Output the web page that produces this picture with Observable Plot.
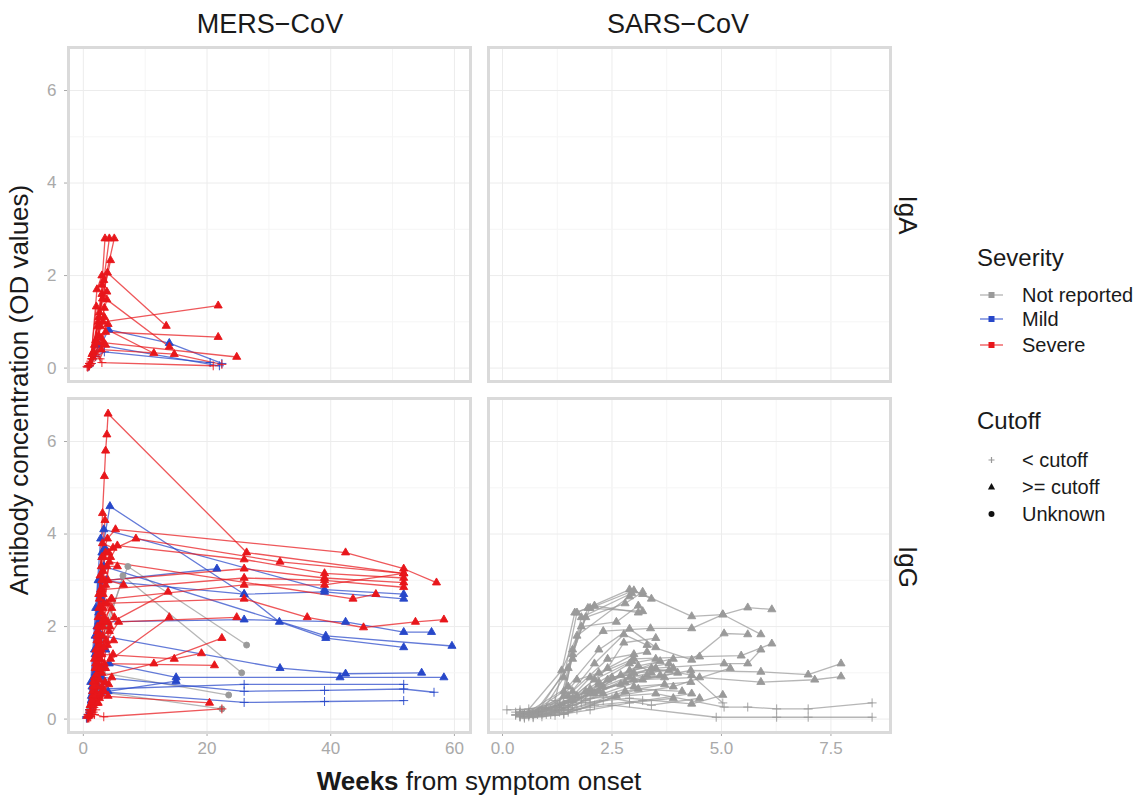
<!DOCTYPE html>
<html><head><meta charset="utf-8">
<script src="https://cdn.jsdelivr.net/npm/d3@7"></script>
<script src="https://cdn.jsdelivr.net/npm/@observablehq/plot@0.6"></script>
<style>
body{margin:0;background:#fff;font-family:"Liberation Sans",Arial,Helvetica,sans-serif;}
#chart{position:relative;width:1143px;height:801px;overflow:hidden;background:#fff;}
#chart svg{position:absolute;left:0;top:0;}
.lbl{position:absolute;white-space:nowrap;color:#1a1a1a;line-height:1;}
</style></head><body><div id="chart"></div>
<script>
// ---------- categories ----------
const sevLevels = ["Not reported", "Mild", "Severe"];
const sevColors = ["#9a9a9a", "#2747c9", "#e8161b"];
const sevCodes = {N: "Not reported", M: "Mild", S: "Severe"};
const cutoffLevels = ["< cutoff", ">= cutoff", "Unknown"];   // code 0, 1, 2
const columnLabels = ["MERS\u2212CoV", "SARS\u2212CoV"];
const rowLabels = ["IgA", "IgG"];
const yTicks = [0, 2, 4, 6];
const mersXTicks = [0, 20, 40, 60];
const sarsXTicks = [0, 2.5, 5, 7.5];

// ---------- MERS-CoV, IgA : [severity, [[week, OD, cutoff], ...]] ----------
const mersIgA = [
  ["M", [[1.0,0.05,0],[4.1,0.83,1],[13.9,0.54,1],[22.4,0.1,0]]],
  ["M", [[1.3,0.1,0],[2.5,0.5,1],[22.0,0.05,0]]],
  ["M", [[0.8,0.03,0],[2.0,0.25,0],[3.4,0.35,0],[20.5,0.12,0]]],
  ["S", [[1.0,0.05,0],[2.0,0.6,1],[3.0,1.8,1],[3.5,2.8,1]]],
  ["S", [[1.2,0.1,0],[2.4,1.0,1],[3.3,1.9,1],[4.2,2.8,1]]],
  ["S", [[1.5,0.2,0],[3.0,1.6,1],[5.0,2.8,1]]],
  ["S", [[1.0,0.1,0],[2.6,1.2,1],[4.4,2.33,1]]],
  ["S", [[1.3,0.2,0],[2.5,1.1,1],[3.9,2.06,1],[13.4,0.91,1]]],
  ["S", [[1.1,0.1,0],[2.1,1.33,1],[3.2,1.0,1],[21.8,1.35,1]]],
  ["S", [[1.4,0.3,1],[3.8,1.48,1],[13.9,0.46,1]]],
  ["S", [[1.0,0.1,0],[3.6,0.78,1],[21.8,0.67,1]]],
  ["S", [[1.2,0.1,0],[3.2,0.55,1],[24.8,0.24,1]]],
  ["S", [[0.9,0.05,0],[2.8,0.9,1],[11.4,0.32,1]]],
  ["S", [[1.5,0.2,0],[2.9,0.4,1],[14.7,0.3,1],[22.4,0.08,0]]],
  ["S", [[0.8,0.05,0],[2.0,0.3,0],[3.0,0.12,0],[21.0,0.05,0]]],
  ["S", [[1.0,0.1,0],[2.3,0.9,1],[3.4,1.1,1]]],
  ["S", [[1.2,0.15,0],[2.2,1.7,1],[3.0,2.0,1]]],
  ["S", [[0.7,0.02,0],[1.6,0.35,1],[2.5,0.7,1],[3.4,1.3,1]]],
  ["S", [[0.9,0.05,0],[1.8,0.5,1],[2.7,0.2,0],[3.6,0.5,1]]],
  ["S", [[0.6,0.03,0],[1.4,0.2,0],[2.2,0.55,1],[3.1,1.5,1],[3.8,1.65,1]]],
  ["S", [[1.1,0.08,0],[1.9,0.25,0],[2.9,0.65,1],[4.0,0.95,1]]]
];

// ---------- MERS-CoV, IgG ----------
const mersIgG = [
  ["N", [[1.6,0.4,2],[3.5,2.0,2],[7.2,3.3,2],[26.4,1.6,2]]],
  ["N", [[1.2,0.3,2],[2.6,1.4,2],[6.4,3.1,2],[25.6,1.0,2]]],
  ["N", [[1.5,0.5,2],[3.0,1.0,2],[23.5,0.52,2]]],
  ["N", [[1.0,0.2,2],[2.2,0.6,2],[22.4,0.22,2]]],
  ["M", [[0.8,0.05,0],[1.5,0.6,1],[2.2,2.0,1],[3.0,3.6,1],[4.3,4.6,1],[26.0,2.7,1],[31.7,2.1,1],[39.2,1.75,1],[51.8,1.55,1]]],
  ["M", [[0.9,0.1,0],[1.7,0.9,1],[2.5,2.3,1],[3.3,3.3,1],[39.2,1.8,1],[59.6,1.58,1]]],
  ["M", [[1.0,0.1,0],[2.0,1.0,1],[3.0,2.6,1],[3.8,3.0,1],[21.6,3.25,1]]],
  ["M", [[1.2,0.3,1],[2.5,2.1,1],[26.0,2.15,1],[42.4,2.1,1],[51.8,1.88,1],[56.3,1.88,1]]],
  ["M", [[1.5,0.5,1],[3.0,1.8,1],[31.8,1.1,1],[42.4,0.98,1],[54.7,1.0,1]]],
  ["M", [[1.0,0.2,0],[2.2,1.3,1],[4.2,1.2,1],[15.0,0.9,1],[41.5,0.9,1],[58.3,0.9,1]]],
  ["M", [[1.3,0.4,1],[3.2,0.65,1],[26.0,0.75,0],[51.8,0.75,0]]],
  ["M", [[1.0,0.2,0],[3.0,0.9,1],[26.0,0.6,0],[39.0,0.62,0],[51.8,0.65,0],[56.7,0.58,0]]],
  ["M", [[1.1,0.15,0],[2.0,0.6,1],[26.0,0.36,0],[39.0,0.38,0],[51.8,0.4,0]]],
  ["M", [[0.5,0.05,0],[1.2,0.8,1],[2.0,2.4,1],[2.8,3.9,1],[3.3,4.1,1],[39.0,2.8,1],[51.8,2.7,1]]],
  ["M", [[0.8,0.1,0],[1.8,1.5,1],[2.5,3.0,1],[26.0,2.7,1],[39.0,2.75,1],[51.8,2.6,1]]],
  ["M", [[0.6,0.03,0],[1.4,0.25,0],[2.1,1.2,1],[2.7,2.1,1],[3.5,3.7,1]]],
  ["M", [[0.7,0.05,0],[1.3,0.4,1],[1.9,1.4,1],[2.4,1.9,1],[3.6,1.5,1]]],
  ["M", [[0.9,0.1,0],[1.6,0.3,0],[4.0,0.6,1],[15.0,0.82,1]]],
  ["M", [[0.7,0.05,0],[1.3,0.5,1],[1.9,1.8,1],[2.4,3.0,1],[3.0,3.5,1]]],
  ["M", [[0.8,0.1,0],[1.4,0.7,1],[2.0,1.0,1],[2.6,1.3,1],[3.4,1.1,1]]],
  ["M", [[0.5,0.02,0],[1.1,0.15,0],[1.7,0.5,1],[2.3,0.7,1],[3.5,0.8,1]]],
  ["S", [[0.9,0.05,0],[1.6,0.5,1],[2.2,1.7,1],[2.7,3.1,1],[3.1,4.45,1],[3.4,5.25,1],[3.6,5.8,1],[3.8,6.15,1],[4.0,6.6,1],[26.4,3.6,1],[51.8,3.15,1]]],
  ["S", [[1.0,0.1,0],[1.8,0.9,1],[2.4,2.2,1],[3.0,3.5,1],[3.9,3.9,1],[5.2,4.1,1],[42.4,3.6,1],[51.8,3.25,1],[57.1,2.95,1]]],
  ["S", [[1.2,0.2,0],[2.0,1.2,1],[2.8,2.8,1],[3.6,3.6,1],[8.5,3.9,1],[31.8,3.4,1],[51.8,3.15,1]]],
  ["S", [[1.0,0.1,0],[2.2,1.8,1],[3.2,3.2,1],[5.5,3.75,1],[26.0,3.45,1],[39.0,3.15,1],[51.8,3.05,1]]],
  ["S", [[1.3,0.15,0],[2.5,2.4,1],[3.5,3.0,1],[26.0,3.25,1],[39.0,3.05,1],[51.8,2.95,1]]],
  ["S", [[1.1,0.3,1],[2.0,1.5,1],[3.0,2.8,1],[26.0,3.05,1],[39.0,3.0,1],[51.8,2.85,1]]],
  ["S", [[1.5,0.5,1],[2.6,2.0,1],[4.5,2.6,1],[26.0,2.9,1],[39.0,2.9,1],[51.8,3.15,1]]],
  ["S", [[1.2,0.2,0],[2.3,1.2,1],[3.3,2.5,1],[26.0,2.6,1],[36.2,2.2,1],[45.3,1.98,1],[53.7,2.1,1],[58.3,2.15,1]]],
  ["S", [[1.4,0.35,1],[2.8,2.0,1],[4.2,3.4,1],[43.6,2.6,1],[47.3,2.7,1]]],
  ["S", [[1.0,0.1,0],[2.4,1.0,1],[3.2,2.0,1],[13.7,2.75,1]]],
  ["S", [[1.3,0.3,1],[2.9,1.5,1],[5.7,2.1,1],[24.8,2.2,1]]],
  ["S", [[1.1,0.2,0],[2.2,0.9,1],[11.4,1.2,1],[22.4,1.75,1]]],
  ["S", [[1.6,0.4,1],[3.0,1.4,1],[14.7,1.3,1],[19.1,1.42,1]]],
  ["S", [[1.2,0.25,0],[2.5,1.1,1],[13.9,2.2,1]]],
  ["S", [[0.9,0.1,0],[2.0,0.6,1],[3.4,1.2,1],[21.2,1.16,1]]],
  ["S", [[1.0,0.08,0],[2.6,0.5,1],[20.4,0.35,1]]],
  ["S", [[0.8,0.03,0],[1.8,0.1,0],[3.3,0.05,0],[22.4,0.22,0]]],
  ["S", [[0.8,0.05,0],[1.5,0.6,1],[2.3,1.9,1],[2.9,3.3,1],[3.5,4.3,1]]],
  ["S", [[1.0,0.1,0],[1.9,1.1,1],[2.6,2.6,1],[3.1,3.8,1],[4.8,3.7,1]]],
  ["S", [[1.2,0.2,0],[2.1,1.4,1],[2.9,2.3,1],[3.6,2.9,1]]],
  ["S", [[0.7,0.02,0],[1.4,0.3,0],[2.0,0.8,1],[2.7,1.6,1],[3.4,2.2,1],[4.6,2.4,1]]],
  ["S", [[1.1,0.15,0],[2.2,0.7,1],[3.0,1.0,1],[4.2,1.9,1]]],
  ["S", [[0.9,0.05,0],[1.7,0.25,0],[2.6,0.45,1],[3.5,0.8,1]]],
  ["S", [[1.4,0.2,0],[2.4,1.8,1],[3.2,2.4,1],[4.0,3.0,1],[6.5,2.9,1]]],
  ["S", [[1.0,0.1,0],[1.8,0.5,1],[2.7,1.3,1],[3.9,1.6,1],[4.9,1.7,1]]],
  ["S", [[1.2,0.1,0],[2.3,0.35,1],[3.1,0.6,1],[4.1,0.75,1]]],
  ["S", [[0.6,0.02,0],[1.3,0.2,0],[1.9,0.9,1],[2.5,1.7,1],[3.2,2.7,1],[4.4,3.5,1]]],
  ["S", [[0.8,0.08,0],[1.6,0.7,1],[2.3,1.5,1],[3.0,2.1,1],[3.8,2.5,1],[5.0,2.2,1]]],
  ["S", [[1.0,0.15,0],[1.7,0.45,1],[2.4,1.3,1],[3.1,1.8,1],[4.0,2.1,1]]],
  ["S", [[0.9,0.1,0],[1.5,0.35,1],[2.1,0.95,1],[2.8,1.4,1],[3.7,1.7,1],[4.4,1.3,1]]],
  ["S", [[1.1,0.05,0],[1.9,0.3,0],[2.6,0.85,1],[3.3,1.55,1],[4.3,2.0,1]]],
  ["S", [[0.7,0.05,0],[1.4,0.4,1],[2.2,1.1,1],[3.0,0.7,1],[4.0,0.5,1]]],
  ["S", [[1.3,0.1,0],[2.0,0.5,1],[2.8,1.1,1],[3.6,2.1,1],[4.6,2.6,1]]],
  ["S", [[1.0,0.2,0],[1.8,1.3,1],[2.5,2.7,1],[3.3,3.5,1],[4.1,3.6,1]]],
  ["S", [[0.8,0.1,0],[1.6,0.8,1],[2.3,2.0,1],[3.0,3.0,1],[3.8,3.3,1],[5.5,3.3,1]]],
  ["S", [[1.2,0.05,0],[2.0,0.2,0],[2.8,0.55,1],[3.6,1.1,1],[4.8,1.4,1]]],
  ["S", [[0.9,0.02,0],[1.6,0.15,0],[2.4,0.35,1],[3.4,0.6,1],[4.6,0.9,1]]]
];

// ---------- SARS-CoV, IgG (severity not reported) ----------
const sarsIgG = [
  ["N", [[0.4,0.1,0],[0.9,0.15,0],[1.4,0.9,1],[1.7,2.3,1],[2.9,2.8,1],[3.2,2.7,1],[4.32,2.22,1],[5.03,2.26,1],[5.6,2.41,1],[6.15,2.37,1]]],
  ["N", [[0.5,0.05,0],[1.3,0.3,0],[1.6,1.5,1],[2.0,2.4,1],[3.0,2.78,1],[3.4,2.6,1]]],
  ["N", [[0.6,0.1,0],[1.4,0.6,1],[1.8,2.2,1],[2.95,2.72,1]]],
  ["N", [[0.4,0.05,0],[1.2,0.4,0],[1.65,2.3,1],[2.1,2.45,1],[3.1,2.3,1]]],
  ["N", [[0.7,0.1,0],[1.5,1.1,1],[1.95,2.4,1],[3.2,2.33,1]]],
  ["N", [[0.5,0.1,0],[1.35,1.05,1],[1.8,2.0,1],[2.6,2.1,1],[3.1,2.45,1]]],
  ["N", [[0.8,0.15,0],[1.6,1.3,1],[2.3,1.9,1],[3.38,1.96,1],[4.32,1.96,1],[5.03,2.26,1],[5.9,1.83,1]]],
  ["N", [[0.6,0.1,0],[1.5,0.5,1],[2.1,1.2,1],[2.77,1.83,1],[3.3,1.6,1],[4.32,1.28,1],[5.06,1.85,1],[5.6,1.83,1]]],
  ["N", [[0.5,0.1,0],[1.5,0.7,1],[2.2,1.5,1],[2.9,1.95,1],[3.5,1.55,1]]],
  ["N", [[0.4,0.15,0],[1.4,0.3,0],[2.0,0.9,1],[3.0,1.3,1],[4.5,1.35,1],[5.45,1.37,1],[6.15,1.63,1]]],
  ["N", [[0.5,0.1,0],[1.5,0.3,0],[2.5,0.9,1],[3.5,1.1,1],[5.06,1.2,1],[5.6,1.2,1],[5.9,1.5,1]]],
  ["N", [[0.6,0.1,0],[1.6,0.4,1],[2.8,0.8,1],[4.3,1.05,1],[5.9,1.02,1],[6.98,0.96,1],[7.73,1.2,1]]],
  ["N", [[0.7,0.12,0],[1.7,0.5,1],[3.0,0.85,1],[4.5,0.9,1],[5.9,0.8,1],[7.13,0.85,1],[7.73,0.92,1]]],
  ["N", [[0.4,0.2,0],[1.0,0.25,0],[2.0,0.45,0],[3.5,0.55,1],[5.06,0.26,0],[5.6,0.26,0],[6.26,0.22,0],[6.98,0.22,0],[8.44,0.35,0]]],
  ["N", [[0.5,0.1,0],[1.5,0.2,0],[2.5,0.3,0],[4.88,0.04,0],[6.26,0.04,0],[6.98,0.04,0],[8.44,0.04,0]]],
  ["N", [[0.9,0.1,0],[1.8,0.35,0],[2.9,0.45,0],[4.32,0.33,1],[5.03,0.52,1]]],
  ["N", [[0.1,0.2,0],[0.6,0.22,0],[1.3,0.35,0],[2.2,0.6,1],[3.3,0.95,1]]],
  ["N", [[0.4,0.05,0],[1.2,0.15,0],[2.0,0.55,1],[2.9,1.05,1],[3.8,1.2,1]]],
  ["N", [[0.5,0.02,0],[1.1,0.1,0],[1.9,0.4,0],[3.0,0.7,1],[4.3,0.8,1]]],
  ["N", [[0.4,0.12,0],[1.3,0.2,0],[2.3,0.7,1],[3.4,1.1,1],[4.32,0.95,1],[5.03,0.35,0]]],
  ["N", [[0.6,0.08,0],[1.5,0.15,0],[2.4,0.85,1],[3.6,1.25,1]]],
  ["N", [[0.7,0.03,0],[1.4,0.1,0],[2.6,0.5,1],[3.9,0.7,1],[5.2,1.1,1]]],
  ["N", [[0.3,0.15,0],[1.0,0.2,0],[1.8,0.45,0],[2.7,0.95,1],[3.7,0.9,1]]],
  ["N", [[0.5,0.05,0],[1.4,0.12,0],[2.1,0.3,0],[3.2,0.4,0],[4.32,0.55,1]]],
  ["N", [[0.8,0.1,0],[1.6,0.45,1],[2.4,1.1,1],[2.77,1.65,1],[3.5,1.75,1]]],
  ["N", [[0.4,0.08,0],[1.3,0.25,0],[2.1,0.85,1],[2.95,1.25,1],[3.4,1.0,1]]],
  ["N", [[0.6,0.15,0],[1.25,0.28,0],[2.0,0.65,1],[3.1,1.15,1],[3.9,1.3,1]]],
  ["N", [[0.45,0.1,0],[1.35,0.25,0],[1.6,1.4,1],[1.9,2.2,1],[2.8,2.5,1],[3.2,2.75,1]]],
  ["N", [[0.6,0.1,0],[1.4,0.5,1],[1.7,1.8,1],[2.9,2.65,1]]],
  ["N", [[0.9,0.05,0],[1.7,0.2,0],[2.5,0.45,0],[3.4,0.3,0],[4.5,0.45,1]]],
  ["N", [[0.3,0.1,0],[0.9,0.18,0],[1.6,0.6,1],[2.4,1.3,1],[3.3,1.45,1]]],
  ["N", [[0.7,0.05,0],[1.5,0.25,0],[2.2,0.75,1],[3.0,1.0,1],[3.8,1.05,1]]],
  ["N", [[0.4,0.05,0],[1.0,0.1,0],[1.6,0.3,0],[2.3,0.55,1],[3.2,0.85,1],[4.0,1.0,1]]],
  ["N", [[0.5,0.1,0],[1.2,0.2,0],[1.9,0.6,1],[2.7,0.75,1],[3.6,0.95,1]]],
  ["N", [[0.6,0.05,0],[1.3,0.15,0],[2.0,0.35,0],[2.8,0.6,1],[3.7,0.75,1]]],
  ["N", [[0.3,0.08,0],[0.8,0.12,0],[1.5,0.4,0],[2.2,0.8,1],[2.9,1.2,1],[3.5,1.3,1]]],
  ["N", [[0.7,0.1,0],[1.4,0.35,0],[2.1,0.55,1],[2.9,0.9,1],[3.9,1.1,1]]],
  ["N", [[0.4,0.15,0],[1.1,0.2,0],[1.7,0.85,1],[2.2,1.0,1],[3.0,1.4,1]]],
  ["N", [[0.5,0.05,0],[1.2,0.08,0],[2.0,0.2,0],[2.9,0.35,0],[3.9,0.45,1]]],
  ["N", [[0.6,0.12,0],[1.5,0.2,0],[2.3,0.4,0],[3.1,0.65,1],[4.1,0.6,1]]]
];
const sarsIgA = [];

// ---------- helpers ----------
function flatten(series, prefix) {
  const out = [];
  series.forEach(([s, pts], i) => pts.forEach(([x, y, c]) =>
    out.push({id: prefix + i, sev: sevCodes[s], x, y, cut: cutoffLevels[c]})));
  return out;
}
const W = 1143, H = 801;
const yDomain = [-0.29, 6.93];
const yMinor = [1, 3, 5];
const chart = document.getElementById("chart");

function panel({data, rect, xDomain, xTicks, xMinor, xFormat, showX, showY}) {
  const [x0, y0, x1, y1] = rect;
  const svg = Plot.plot({
    width: W, height: H,
    marginLeft: x0, marginRight: W - x1, marginTop: y0, marginBottom: H - y1,
    style: {background: "transparent", fontFamily: "Liberation Sans, Arial, sans-serif", fontSize: "17px", color: "#a9a9a9", overflow: "visible"},
    x: {domain: xDomain, ticks: xTicks, tickFormat: xFormat, axis: showX ? "bottom" : null, tickSize: 4, tickPadding: 5, label: null},
    y: {domain: yDomain, ticks: yTicks, axis: showY ? "left" : null, tickSize: 4, tickPadding: 8, label: null},
    color: {domain: sevLevels, range: sevColors},
    symbol: {domain: cutoffLevels, range: ["plus", "triangle", "circle"]},
    marks: [
      Plot.ruleX(xMinor, {stroke: "#f5f5f5", strokeWidth: 1}),
      Plot.ruleX(xTicks, {stroke: "#ececec", strokeWidth: 1}),
      Plot.ruleY(yMinor, {stroke: "#f5f5f5", strokeWidth: 1}),
      Plot.ruleY(yTicks, {stroke: "#ececec", strokeWidth: 1}),
      Plot.line(data, {x: "x", y: "y", z: "id", stroke: "sev", strokeWidth: 1.3, strokeOpacity: 0.72}),
      Plot.dot(data, {x: "x", y: "y", symbol: "cut", fill: "sev", stroke: "sev", r: 3, strokeWidth: 0.9}),
      Plot.frame({stroke: "#dadada", strokeWidth: 3})
    ]
  });
  chart.appendChild(svg);
}

const mersFmt = d3.format("d"), sarsFmt = d3.format(".1f");
panel({data: flatten(mersIgA, "a"), rect: [68, 47, 470, 381], xDomain: [-2.4, 62.6], xTicks: mersXTicks, xMinor: [10, 30, 50], xFormat: mersFmt, showX: false, showY: true});
panel({data: flatten(mersIgG, "g"), rect: [68, 398, 470, 732], xDomain: [-2.4, 62.6], xTicks: mersXTicks, xMinor: [10, 30, 50], xFormat: mersFmt, showX: true, showY: true});
panel({data: flatten(sarsIgA, "sa"), rect: [488, 47, 890, 381], xDomain: [-0.32, 8.86], xTicks: sarsXTicks, xMinor: [1.25, 3.75, 6.25], xFormat: sarsFmt, showX: false, showY: false});
panel({data: flatten(sarsIgG, "sg"), rect: [488, 398, 890, 732], xDomain: [-0.32, 8.86], xTicks: sarsXTicks, xMinor: [1.25, 3.75, 6.25], xFormat: sarsFmt, showX: true, showY: false});

// ---------- text labels ----------
function label(html, css) {
  const d = document.createElement("div");
  d.className = "lbl"; d.innerHTML = html;
  Object.assign(d.style, css);
  chart.appendChild(d);
}
label(columnLabels[0], {left: "270px", top: "24px", fontSize: "27px", transform: "translate(-50%,-50%)"});
label(columnLabels[1], {left: "678px", top: "24px", fontSize: "27px", transform: "translate(-50%,-50%)"});
label(rowLabels[0], {left: "908px", top: "215px", fontSize: "26px", transform: "translate(-50%,-50%) rotate(90deg)"});
label(rowLabels[1], {left: "908px", top: "567px", fontSize: "26px", transform: "translate(-50%,-50%) rotate(90deg)"});
label("Antibody concentration (OD values)", {left: "19px", top: "390px", fontSize: "26px", transform: "translate(-50%,-50%) rotate(-90deg)"});
label("<b>Weeks</b> from symptom onset", {left: "479px", top: "781px", fontSize: "26px", transform: "translate(-50%,-50%)"});

// ---------- legend ----------
const ns = "http://www.w3.org/2000/svg";
const leg = document.createElementNS(ns, "svg");
leg.setAttribute("width", W); leg.setAttribute("height", H);
leg.style.pointerEvents = "none";
let g = `<g font-family="Liberation Sans, Arial, sans-serif" fill="#1a1a1a">`;
g += `<text x="977" y="266" font-size="24">Severity</text>`;
const sevY = [295, 319, 345];
sevLevels.forEach((s, i) => {
  g += `<line x1="980" x2="1003" y1="${sevY[i]}" y2="${sevY[i]}" stroke="${sevColors[i]}" stroke-width="1.3" stroke-opacity="0.75"/>`;
  g += `<rect x="${991.5 - 3}" y="${sevY[i] - 3}" width="6" height="6" fill="${sevColors[i]}"/>`;
  g += `<text x="1022" y="${sevY[i] + 7}" font-size="20">${s}</text>`;
});
g += `<text x="977" y="429" font-size="24">Cutoff</text>`;
const cutY = [460, 487, 514];
g += `<path d="M${991.5-3},${cutY[0]}h6M991.5,${cutY[0]-3}v6" stroke="#999" stroke-width="1.2"/>`;
g += `<path d="M991.5,${cutY[1]-4}L${991.5+3.6},${cutY[1]+2.5}L${991.5-3.6},${cutY[1]+2.5}Z" fill="#111"/>`;
g += `<circle cx="991.5" cy="${cutY[2]}" r="3" fill="#111"/>`;
cutoffLevels.forEach((c, i) => {
  g += `<text x="1022" y="${cutY[i] + 7}" font-size="20">${c.replace("<", "&lt;").replace(">", "&gt;")}</text>`;
});
g += `</g>`;
leg.innerHTML = g;
chart.appendChild(leg);
</script>
</body></html>
